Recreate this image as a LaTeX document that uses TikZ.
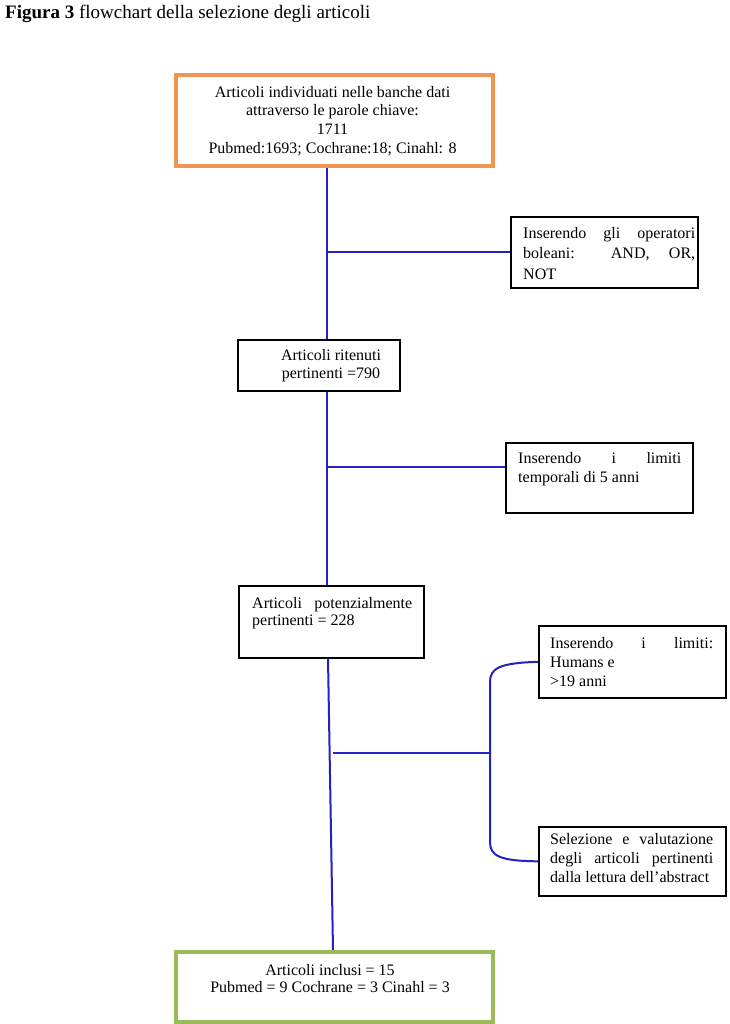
\documentclass[tikz,border=0pt]{standalone}
\usepackage{fontspec}
\setmainfont{Liberation Serif}
\begin{document}
\begin{tikzpicture}[x=1pt,y=-1pt,
  box/.style={draw=black,line width=1.6pt,minimum width=#1,inner sep=0pt,anchor=north west},
  obox/.style={draw=boxorange,line width=4pt,inner sep=0pt,anchor=north west},
  gbox/.style={draw=boxgreen,line width=4pt,inner sep=0pt,anchor=north west},
  txt/.style={inner sep=0pt,font=\fontsize{16}{#1}\selectfont},
  txt/.default=18.5,
  jtxt/.style={txt=#1,align=justify,anchor=north west},
  jtxt/.default=18.5,
  link/.style={draw=linkblue,line width=2pt}]
\definecolor{boxorange}{RGB}{240,150,80}
\definecolor{boxgreen}{RGB}{155,187,89}
\definecolor{linkblue}{RGB}{35,35,195}
\useasboundingbox (0,0) rectangle (729,1024);
\fill[white] (0,0) rectangle (729,1024);
% title
\node[inner sep=0pt,font=\fontsize{19}{22}\selectfont,anchor=base west] (title) at (5,19) {\textbf{Figura 3} flowchart della selezione degli articoli};
% boxes
\node[obox,minimum width=317,minimum height=91] (b1) at (174,73) {};
\node[box=187,minimum height=71] (b2) at (510,216) {};
\node[box=162,minimum height=51] (b3) at (237,339) {};
\node[box=187,minimum height=70] (b4) at (505,442) {};
\node[box=185,minimum height=72] (b5) at (238,585) {};
\node[box=187,minimum height=72] (b6) at (538,625) {};
\node[box=187,minimum height=69] (b7) at (538,826) {};
\node[gbox,minimum width=317,minimum height=70] (b8) at (174,950) {};
% texts
\node[txt=18.7,align=center,anchor=north] (t1) at (332.5,86) {Articoli individuati nelle banche dati\\attraverso le parole chiave:\\1711\\Pubmed:1693; Cochrane:18; Cinahl: 8};
\node[jtxt=20.5,text width=172] (t2) at (523,227) {Inserendo gli operatori\linebreak boleani: AND, OR,\linebreak NOT};
\node[txt=18,align=center,anchor=north] (t3) at (331,349) {Articoli ritenuti\\pertinenti =790};
\node[jtxt=19,text width=163] (t4) at (518,452) {Inserendo i limiti\linebreak temporali di 5 anni};
\node[jtxt=17.5,text width=160] (t5) at (252,597) {Articoli potenzialmente\linebreak pertinenti = 228};
\node[jtxt=19,text width=163] (t6) at (550,637) {Inserendo i limiti:\linebreak Humans e\\ >19 anni};
\node[jtxt=19,text width=163] (t7) at (550,833) {Selezione e valutazione\linebreak degli articoli pertinenti\linebreak dalla lettura dell’abstract};
\node[txt=17,align=center,anchor=north] (t8) at (330,964) {Articoli inclusi = 15\\Pubmed = 9 Cochrane = 3 Cinahl = 3};
% connectors
\draw[link] (327,0 |- b1.south) -- (327,0 |- b3.north);
\draw[link] (327,0 |- b2.west) -- (b2.west);
\draw[link] (327,0 |- b3.south) -- (327,0 |- b5.north);
\coordinate (j4) at (327,467);
\draw[link] (j4) -- (b4.west |- j4);
\draw[link] (328,0 |- b5.south) -- (333,0 |- b8.north);
\coordinate (j5) at (333,753);
\coordinate (br) at (490,753);
\draw[link] (j5) -- (br);
\draw[link] (b6.west) .. controls (500,663) and (490,668) .. (490,682) -- (490,842) .. controls (490,856) and (500,861) .. (b7.west);
\end{tikzpicture}
\end{document}
